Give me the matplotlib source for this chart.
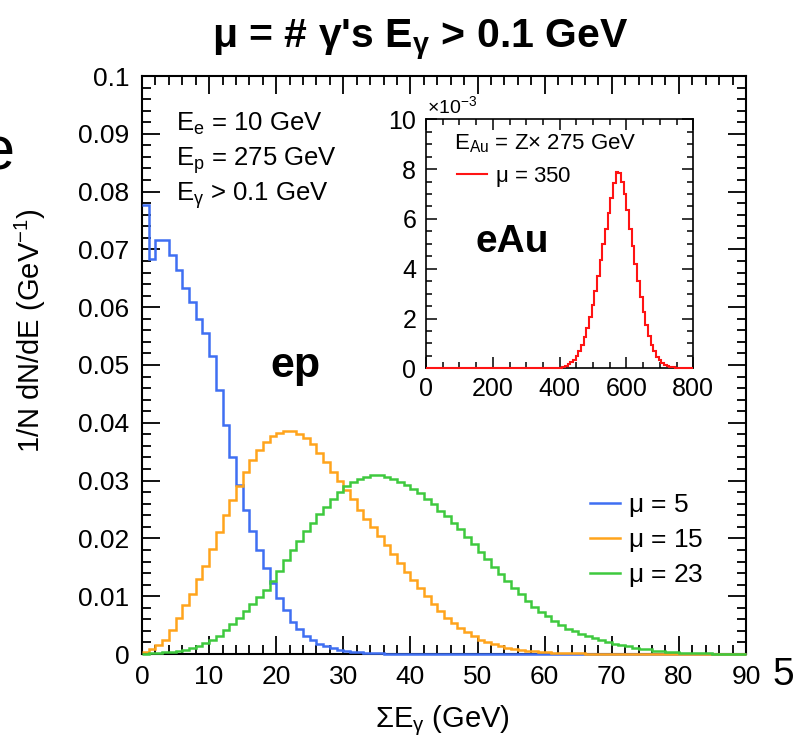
import numpy as np
import matplotlib
matplotlib.use("Agg")
import matplotlib.pyplot as plt
from matplotlib.lines import Line2D
from matplotlib.ticker import MultipleLocator, FuncFormatter

plt.rcParams['font.family'] = ['Liberation Sans', 'DejaVu Sans']
plt.rcParams['mathtext.fontset'] = 'custom'
plt.rcParams['mathtext.rm'] = 'Liberation Sans'
plt.rcParams['mathtext.it'] = 'Liberation Sans:italic'
plt.rcParams['mathtext.bf'] = 'Liberation Sans:bold'
plt.rcParams['mathtext.default'] = 'regular'

# ---------------- data ----------------
ep_range = (0, 90)          # GeV, 1 GeV bins
mu5 = [0.0776, 0.0683, 0.0716, 0.0716, 0.0691, 0.0664, 0.0633, 0.0609, 0.0579, 0.0555,
       0.0515, 0.0457, 0.0397, 0.0341, 0.0292, 0.0250, 0.0213, 0.0180, 0.0148, 0.0122,
       0.0097, 0.0076, 0.0056, 0.0043, 0.0032, 0.0024, 0.0018, 0.0013, 0.0010, 0.0007,
       0.0005, 0.0004, 0.0003, 0.0002, 0.00015, 0.0001, 0.00007, 0.00005, 0.00003, 0.00002,
       0, 0, 0, 0, 0, 0, 0, 0, 0, 0,
       0, 0, 0, 0, 0, 0, 0, 0, 0, 0,
       0, 0, 0, 0, 0, 0, 0, 0, 0, 0,
       0, 0, 0, 0, 0, 0, 0, 0, 0, 0,
       0, 0, 0, 0, 0, 0, 0, 0, 0, 0]
mu15 = [0.0004, 0.0009, 0.0015, 0.0025, 0.0042, 0.0062, 0.0084, 0.0104, 0.0129, 0.0153,
        0.0181, 0.0211, 0.0240, 0.0266, 0.0290, 0.0315, 0.0336, 0.0353, 0.0366, 0.0377,
        0.0382, 0.0385, 0.0385, 0.0381, 0.0373, 0.0363, 0.0348, 0.0332, 0.0315, 0.0299,
        0.0283, 0.0268, 0.0250, 0.0234, 0.0219, 0.0204, 0.0189, 0.0173, 0.0157, 0.0142,
        0.0128, 0.0114, 0.0100, 0.0086, 0.0075, 0.0063, 0.0053, 0.0045, 0.0038, 0.0031,
        0.0025, 0.0021, 0.0017, 0.0014, 0.0011, 0.0009, 0.0007, 0.0006, 0.0005, 0.0004,
        0.0003, 0.00025, 0.0002, 0.00015, 0.00012, 0.0001, 0.00008, 0.00006, 0.00005, 0.00004,
        0.00003, 0.00002, 0.00002, 0.00001, 0, 0, 0, 0, 0, 0,
        0, 0, 0, 0, 0, 0, 0, 0, 0, 0]
mu23 = [0.00005, 0.0001, 0.0002, 0.0003, 0.0004, 0.0005, 0.0007, 0.0010, 0.0014, 0.0019,
        0.0025, 0.0032, 0.0042, 0.0052, 0.0063, 0.0075, 0.0086, 0.0098, 0.0111, 0.0126,
        0.0143, 0.0162, 0.0180, 0.0196, 0.0212, 0.0227, 0.0242, 0.0255, 0.0268, 0.0280,
        0.0290, 0.0298, 0.0303, 0.0306, 0.0309, 0.0309, 0.0307, 0.0303, 0.0298, 0.0292,
        0.0286, 0.0278, 0.0268, 0.0259, 0.0248, 0.0238, 0.0227, 0.0216, 0.0203, 0.0191,
        0.0177, 0.0164, 0.0151, 0.0138, 0.0126, 0.0114, 0.0103, 0.0092, 0.0082, 0.0073,
        0.0065, 0.0057, 0.0050, 0.0044, 0.0039, 0.0035, 0.0031, 0.0027, 0.0024, 0.0021,
        0.0018, 0.0015, 0.0013, 0.0011, 0.0009, 0.0008, 0.0006, 0.0005, 0.0004, 0.0003,
        0.00025, 0.0002, 0.00015, 0.00012, 0.0001, 0.00008, 0.00006, 0.00005, 0.00004, 0.00003]

eau_range = (0, 800)        # GeV, 8 GeV bins
mu350 = ([0] * 47 +
         [0.005, 0.01, 0.02,
          0.03, 0.06, 0.10, 0.16, 0.24, 0.35, 0.50, 0.70, 0.95, 1.25,
          1.62, 2.05, 2.55, 3.10, 3.70, 4.35, 5.00, 5.60, 6.25, 6.85,
          7.45, 7.88, 7.85, 7.50, 7.00, 6.35, 5.60, 4.90, 4.20, 3.50,
          2.85, 2.25, 1.75, 1.30, 0.95, 0.68, 0.47, 0.32, 0.21, 0.14,
          0.09, 0.06, 0.035, 0.02, 0.01, 0.005] +
         [0] * 4)                      # units of 1e-3 GeV^-1

series_labels = [r'$\mu$ = 5', r'$\mu$ = 15', r'$\mu$ = 23']
inset_label = r'$\mu$ = 350'
main_yticks = [0, 0.01, 0.02, 0.03, 0.04, 0.05, 0.06, 0.07, 0.08, 0.09, 0.1]
main_xticks = [0, 10, 20, 30, 40, 50, 60, 70, 80, 90]
inset_xticks = [0, 200, 400, 600, 800]
inset_yticks = [0, 2, 4, 6, 8, 10]

# ---------------- style ----------------
C_BLUE = '#3f6ff2'
C_ORANGE = '#ffa41c'
C_GREEN = '#3ec93e'
C_RED = '#ff1414'

W, H = 810, 738
def fx(px): return px / W
def fy(py): return 1 - py / H

fig = plt.figure(figsize=(W / 100, H / 100), dpi=100)

ax = fig.add_axes([fx(142), fy(654), (746 - 142) / W, (654 - 76) / H])
edges = np.linspace(ep_range[0], ep_range[1], len(mu5) + 1)
for vals, col in zip([mu5, mu15, mu23], [C_BLUE, C_ORANGE, C_GREEN]):
    ax.stairs(vals, edges, color=col, lw=1.8, baseline=None, zorder=3, clip_on=False)

ax.set_xlim(*ep_range)
ax.set_ylim(0, 0.1)
ax.set_xticks(main_xticks)
ax.set_yticks(main_yticks)
ax.xaxis.set_minor_locator(MultipleLocator(2))
ax.yaxis.set_minor_locator(MultipleLocator(0.002))
ax.yaxis.set_major_formatter(FuncFormatter(lambda v, p: '0' if abs(v) < 1e-12 else ('%.2f' % v).rstrip('0')))
ax.tick_params(which='both', direction='in', top=True, right=True, width=1.3, labelsize=19)
ax.tick_params(which='major', length=13)
ax.tick_params(which='minor', length=6.5)
ax.tick_params(axis='y', pad=9)
ax.tick_params(axis='x', pad=8)
for s in ax.spines.values():
    s.set_linewidth(1.5)

ax.set_ylabel('1/N dN/dE (GeV$^{-1}$)', fontsize=21)
ax.yaxis.set_label_coords((48 - 142) / 604, (654 - 331) / 578)
ax.yaxis.label.set_va('bottom')
ax.set_xlabel(r'$\Sigma$E$_{\gamma}$ (GeV)', fontsize=21)
ax.xaxis.set_label_coords((442 - 142) / 604, -(703 - 654) / 578)
ax.xaxis.label.set_va('top')

handles = [Line2D([], [], color=c, lw=1.8) for c in [C_BLUE, C_ORANGE, C_GREEN]]
ax.legend(handles, series_labels, frameon=False, fontsize=19, loc='upper left',
          bbox_to_anchor=(fx(590), fy(492)), bbox_transform=fig.transFigure,
          borderpad=0, borderaxespad=0, handlelength=1.15, handletextpad=0.3,
          labelspacing=0.3)

fig.text(fx(176), fy(131), 'E$_{e}$ = 10 GeV', fontsize=18.5, va='baseline')
fig.text(fx(176), fy(166), 'E$_{p}$ = 275 GeV', fontsize=18.5, va='baseline')
fig.text(fx(176), fy(201), r'E$_{\gamma}$ > 0.1 GeV', fontsize=18.5, va='baseline')
fig.text(fx(270), fy(377), 'ep', fontsize=31, fontweight='bold', va='baseline')

# ---------------- inset ----------------
ax2 = fig.add_axes([fx(426), fy(368.3), (693.3 - 426) / W, (368.3 - 119.3) / H])
edges2 = np.linspace(eau_range[0], eau_range[1], len(mu350) + 1)
ax2.stairs(mu350, edges2, color=C_RED, lw=1.5, baseline=None, zorder=3, clip_on=False)
ax2.set_xlim(*eau_range)
ax2.set_ylim(0, 10)
ax2.set_xticks(inset_xticks)
ax2.set_yticks(inset_yticks)
ax2.xaxis.set_minor_locator(MultipleLocator(50))
ax2.yaxis.set_minor_locator(MultipleLocator(0.5))
ax2.tick_params(which='both', direction='in', top=True, right=True, width=1.1, labelsize=18)
ax2.tick_params(which='major', length=8)
ax2.tick_params(which='minor', length=4.5)
ax2.tick_params(axis='y', pad=7)
ax2.tick_params(axis='x', pad=6)
for s in ax2.spines.values():
    s.set_linewidth(1.2)
fig.text(fx(427), fy(113), r'$\times$10$^{-3}$', fontsize=14, va='baseline')
fig.text(fx(454), fy(149), r'E$_{Au}$ = Z$\times$ 275 GeV', fontsize=16, va='baseline')
ax2.legend([Line2D([], [], color=C_RED, lw=1.5)], [inset_label], frameon=False, fontsize=16,
           loc='upper left', bbox_to_anchor=(fx(457), fy(165)), bbox_transform=fig.transFigure,
           borderpad=0, borderaxespad=0, handlelength=1.35, handletextpad=0.36)
fig.text(fx(475), fy(252), 'eAu', fontsize=28, fontweight='bold', va='baseline')

# ---------------- title & stray glyphs ----------------
fig.text(fx(420), fy(47), r"$\mu$ = # $\gamma$'s E$_{\gamma}$ > 0.1 GeV", fontsize=29.5,
         fontweight='bold', ha='center', va='baseline')
fig.text(fx(14), fy(170), 'e', fontsize=44, ha='right', va='baseline')
fig.text(fx(772), fy(685), '5', fontsize=28, ha='left', va='baseline')

fig.savefig('out.png', dpi=100)
